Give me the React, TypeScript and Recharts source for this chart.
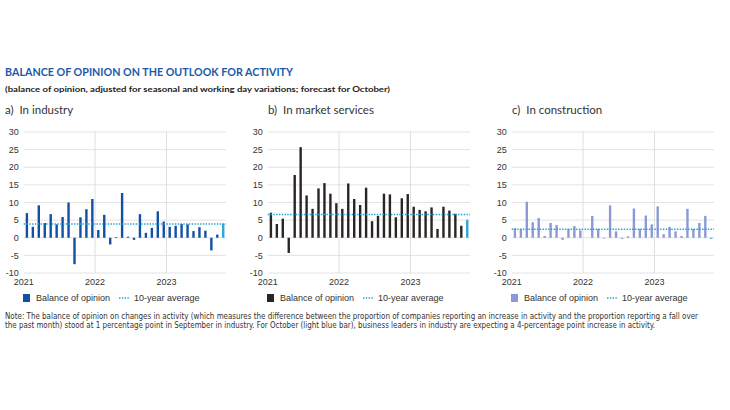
import { BarChart, Bar, XAxis, YAxis, CartesianGrid, ReferenceLine, Cell } from 'recharts';

// Jan 2021 .. Oct 2023 (last month = forecast)
const months = [
  '2021-01', '2021-02', '2021-03', '2021-04', '2021-05', '2021-06', '2021-07', '2021-08', '2021-09', '2021-10', '2021-11', '2021-12',
  '2022-01', '2022-02', '2022-03', '2022-04', '2022-05', '2022-06', '2022-07', '2022-08', '2022-09', '2022-10', '2022-11', '2022-12',
  '2023-01', '2023-02', '2023-03', '2023-04', '2023-05', '2023-06', '2023-07', '2023-08', '2023-09', '2023-10',
];
const yearTicks = [0, 12, 24];
const yearLabels = ['2021', '2022', '2023'];
const yTicks = [-10, -5, 0, 5, 10, 15, 20, 25, 30];

const industry = [7.0, 3.1, 9.2, 4.2, 6.7, 3.8, 5.9, 10.0, -7.5, 5.8, 8.1, 11.0, 2.2, 6.5, -1.9, 0.2, 12.7, 0.3, -0.6, 6.7, 1.4, 2.8, 7.5, 4.6, 3.1, 3.4, 3.9, 3.8, 1.9, 3.0, 2.0, -3.6, 0.9, 4.0];
const services = [7.1, 3.9, 5.4, -4.3, 17.8, 25.7, 12.0, 8.2, 14.0, 15.5, 12.5, 9.8, 8.2, 15.4, 11.0, 9.3, 14.2, 4.7, 6.2, 12.5, 12.3, 5.8, 11.2, 12.4, 8.8, 7.9, 7.5, 8.6, 2.5, 8.8, 7.7, 6.8, 3.4, 5.1];
const construction = [2.7, 2.5, 10.2, 4.4, 5.6, 0.5, 4.2, 3.6, -0.6, 2.5, 3.3, 2.1, 0, 6.2, 2.5, -0.2, 9.2, 1.8, -0.3, 0.4, 8.3, 2.5, 6.3, 3.8, 8.9, 1.0, 3.1, 1.8, 0.5, 8.2, 2.5, 4.2, 6.2, -0.3];

const averages = [3.9, 6.6, 2.4];
const panelTitles = ['a)  In industry', 'b)  In market services', 'c)  In construction'];

const FORECAST = '#2aa6df';
const AVG = '#1fa0d8';
const GRID = '#dcdcdc';
const TICK_FONT = 'Liberation Sans, Arial, sans-serif';

function Panel({ values, avg, color, left }: { values: number[]; avg: number; color: string; left: number }) {
  const data = months.map((m, i) => ({ month: m, x: i + 0.5, v: values[i] }));
  return (
    <div style={{ position: 'absolute', left, top: 124 }}>
      <BarChart width={232} height={164} data={data} margin={{ top: 8, right: 6, bottom: 0, left: 0 }}>
        <CartesianGrid vertical={false} stroke={GRID} strokeWidth={0.8} />
        <XAxis
          type="number"
          dataKey="x"
          domain={[0, 34]}
          ticks={yearTicks}
          tickFormatter={(t: number) => yearLabels[yearTicks.indexOf(t)]}
          axisLine={false}
          tickLine={false}
          tickSize={4}
          tickMargin={2}
          height={15}
          interval={0}
          tick={{ fontSize: 9, fill: '#333', fontFamily: TICK_FONT }}
        />
        <YAxis
          domain={[-10, 30]}
          ticks={yTicks}
          interval={0}
          axisLine={false}
          tickLine={false}
          tickSize={3}
          tickMargin={2}
          width={23.7}
          tick={{ fontSize: 9, fill: '#333', fontFamily: TICK_FONT }}
        />
        <ReferenceLine x={12} stroke={GRID} strokeWidth={0.9} />
        <ReferenceLine x={24} stroke={GRID} strokeWidth={0.9} />
        <Bar dataKey="v" barSize={2.4} isAnimationActive={false}>
          {data.map((d, i) => (
            <Cell key={d.month} fill={i === data.length - 1 ? FORECAST : color} />
          ))}
        </Bar>
        <ReferenceLine y={avg} stroke={AVG} strokeWidth={1.4} strokeDasharray="1.4 1.4" />
      </BarChart>
    </div>
  );
}

function Legend({ left, color }: { left: number; color: string }) {
  const txt = { position: 'absolute' as const, top: 0, fontSize: 9, color: '#333', fontFamily: TICK_FONT, whiteSpace: 'nowrap' as const, lineHeight: '10px' };
  return (
    <div style={{ position: 'absolute', left, top: 293, width: 220, height: 12 }}>
      <div style={{ position: 'absolute', left: 0, top: 1, width: 7, height: 8, background: color }} />
      <div style={{ ...txt, left: 13 }}>Balance of opinion</div>
      <svg style={{ position: 'absolute', left: 96, top: 0 }} width={12} height={10}>
        <line x1={0} y1={5} x2={10} y2={5} stroke={AVG} strokeWidth={1.4} strokeDasharray="1.4 1.4" />
      </svg>
      <div style={{ ...txt, left: 111 }}>10-year average</div>
    </div>
  );
}

export default function App() {
  const series = [industry, services, construction];
  const colors = ['#1250a3', '#2a2522', '#8b9ad6'];
  const lefts = [0, 244, 488];
  const titleFont = 'Lato, "Noto Sans", sans-serif';
  return (
    <div style={{ position: 'absolute', left: 0, top: 0, width: 730, height: 410, background: '#fff', overflow: 'hidden' }}>
      <svg style={{ position: 'absolute', left: 0, top: 0 }} width={730} height={410}>
        <text x={5} y={76} fontFamily={titleFont} fontWeight={700} fontSize={10.5} fill="#1a5aa8" textLength={288} lengthAdjust="spacingAndGlyphs">
          BALANCE OF OPINION ON THE OUTLOOK FOR ACTIVITY
        </text>
        <text x={5} y={92} fontFamily={titleFont} fontWeight={700} fontSize={8} fill="#222" textLength={385} lengthAdjust="spacingAndGlyphs">
          (balance of opinion, adjusted for seasonal and working day variations; forecast for October)
        </text>
        {panelTitles.map((t, i) => (
          <text key={t} x={[5, 268, 512][i]} y={114} fontFamily={titleFont} fontSize={11.5} fill="#333" style={{ whiteSpace: 'pre' }}>
            {t}
          </text>
        ))}
        <text x={5} y={319} fontFamily='"Liberation Sans Narrow", "DejaVu Sans Condensed", sans-serif' fontSize={8} fill="#333" textLength={693} lengthAdjust="spacingAndGlyphs">
          Note: The balance of opinion on changes in activity (which measures the difference between the proportion of companies reporting an increase in activity and the proportion reporting a fall over
        </text>
        <text x={5} y={328} fontFamily='"Liberation Sans Narrow", "DejaVu Sans Condensed", sans-serif' fontSize={8} fill="#333" textLength={650} lengthAdjust="spacingAndGlyphs">
          the past month) stood at 1 percentage point in September in industry. For October (light blue bar), business leaders in industry are expecting a 4-percentage point increase in activity.
        </text>
      </svg>
      {series.map((s, i) => (
        <Panel key={i} values={s} avg={averages[i]} color={colors[i]} left={lefts[i]} />
      ))}
      {lefts.map((l, i) => (
        <Legend key={i} left={l + 23} color={colors[i]} />
      ))}
    </div>
  );
}
